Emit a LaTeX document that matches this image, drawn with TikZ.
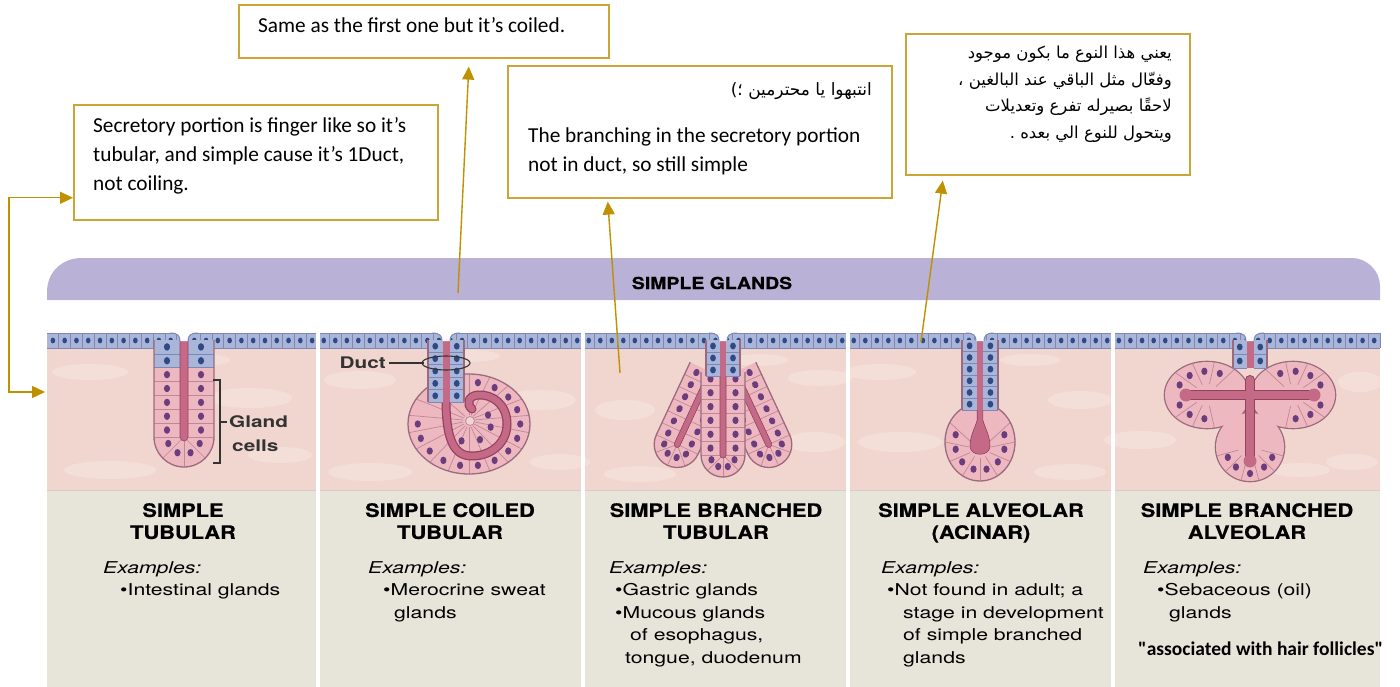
\documentclass[tikz,border=0pt]{standalone}
\usepackage{fontspec}
\setmainfont{Carlito}
\newfontfamily\plaincalibri[Ligatures=TeXOff]{Carlito}
\newfontfamily\figbody[FakeStretch=1.3]{TeX Gyre Heros}
\newfontfamily\figtitle[FakeStretch=1.18,FakeBold=0.6]{TeX Gyre Heros}
\newfontfamily\arabicfont[Script=Arabic]{DejaVu Sans}
\TeXXeTstate=1
\usetikzlibrary{arrows.meta}

\definecolor{tissue}{HTML}{F1D6CF}
\definecolor{tissuelight}{HTML}{F7E6E1}
\definecolor{tissueedge}{HTML}{D9CCC6}
\definecolor{cellpink}{HTML}{EEB8C1}
\definecolor{cellwall}{HTML}{C08896}
\definecolor{glandline}{HTML}{9C6A7E}
\definecolor{nucleus}{HTML}{6C3D7C}
\definecolor{lumenc}{HTML}{C46A87}
\definecolor{lumenedge}{HTML}{94405F}
\definecolor{ductblue}{HTML}{AAB5DA}
\definecolor{ductwall}{HTML}{7F88B2}
\definecolor{ductnuc}{HTML}{2E4A85}
\definecolor{headerc}{HTML}{B9B1D6}
\definecolor{labelbg}{HTML}{E7E5DA}
\definecolor{arrowgold}{HTML}{BF9000}
\definecolor{boxgold}{HTML}{C9A53A}
\definecolor{inkgrey}{HTML}{333333}

\tikzset{
  callout/.style={draw=boxgold, line width=1.6pt, fill=white, inner sep=0pt, anchor=north west},
  notetext/.style={font=\fontsize{21.3}{29}\selectfont, inner sep=0pt, align=left},
  arabictext/.style={font=\arabicfont\fontsize{16.5}{26.5}\selectfont, inner sep=0pt, align=right},
  goldarrow/.style={draw=arrowgold, line width=1.4pt, -{Triangle[length=13pt,width=12pt]}},
  golddouble/.style={draw=arrowgold, line width=1.4pt, {Triangle[length=13pt,width=12pt]}-{Triangle[length=13pt,width=12pt]}},
  wallline/.style={draw=cellwall, line width=0.7pt},
  titletext/.style={font=\figtitle\bfseries\fontsize{18.5}{22}\selectfont, align=center, anchor=north, inner sep=0pt},
  bodytext/.style={font=\figbody\fontsize{16.3}{22.5}\selectfont, align=left, anchor=north west, inner sep=0pt},
  figlabel/.style={font=\figbody\bfseries\fontsize{16}{22}\selectfont, inner sep=0pt, text=inkgrey},
}

% one finger-like secretory tube: x, y, angle, length, half width, duct (blue) length, lumen half width
\newcommand\glandtube[7]{%
  \begin{scope}[shift={(#1,#2)},rotate=#3]
    \pgfmathsetmacro\gdL{#4}\pgfmathsetmacro\gdW{#5}%
    \pgfmathsetmacro\gdB{#6}\pgfmathsetmacro\gdl{#7}%
    \pgfmathsetmacro\gdK{0.5523*\gdW}\pgfmathsetmacro\gdk{0.5523*\gdl}%
    \pgfmathsetmacro\gdE{\gdL+\gdW}\pgfmathsetmacro\gde{\gdL+\gdl}%
    \pgfmathtruncatemacro\gdN{max(1,round(\gdL/14))}%
    \pgfmathsetmacro\gdS{\gdL/\gdN}%
    \pgfmathsetmacro\gdM{(\gdW+\gdl)/2}%
    \fill[cellpink] (-\gdW,0) -- (-\gdW,\gdL) .. controls (-\gdW,\gdL+\gdK) and (-\gdK,\gdE) .. (0,\gdE)
      .. controls (\gdK,\gdE) and (\gdW,\gdL+\gdK) .. (\gdW,\gdL) -- (\gdW,0) -- cycle;
    \ifdim\gdB pt>0pt \fill[ductblue] (-\gdW,0) rectangle (\gdW,\gdB);\fi
    \foreach \k in {1,...,\gdN}{%
      \pgfmathsetmacro\gdy{\k*\gdS}\pgfmathsetmacro\gdc{(\k-0.5)*\gdS}%
      \ifdim\gdy pt>\gdB pt\def\gdwc{cellwall}\else\def\gdwc{ductwall}\fi
      \ifdim\gdc pt>\gdB pt\def\gdnc{nucleus}\else\def\gdnc{ductnuc}\fi
      \draw[draw=\gdwc,line width=0.7pt] (-\gdW,\gdy) -- (-\gdl,\gdy) (\gdl,\gdy) -- (\gdW,\gdy);
      \fill[fill=\gdnc] (-\gdM,\gdc) ellipse[x radius=3.1pt,y radius=3.7pt]
        (\gdM,\gdc) ellipse[x radius=3.1pt,y radius=3.7pt];
    }%
    \foreach \a in {45,90,135}
      \draw[wallline] ({\gdl*cos(\a)},{\gdL+\gdl*sin(\a)}) -- ({\gdW*cos(\a)},{\gdL+\gdW*sin(\a)});
    \foreach \a in {22.5,67.5,112.5,157.5}
      \fill[nucleus] ({\gdM*cos(\a)},{\gdL+\gdM*sin(\a)}) ellipse[x radius=3.1pt,y radius=3.7pt];
    \fill[lumenc] (-\gdl,-5) -- (-\gdl,\gdL) .. controls (-\gdl,\gdL+\gdk) and (-\gdk,\gde) .. (0,\gde)
      .. controls (\gdk,\gde) and (\gdl,\gdL+\gdk) .. (\gdl,\gdL) -- (\gdl,-5) -- cycle;
    \draw[lumenedge,line width=0.6pt] (-\gdl,-5) -- (-\gdl,\gdL) .. controls (-\gdl,\gdL+\gdk) and (-\gdk,\gde) .. (0,\gde)
      .. controls (\gdk,\gde) and (\gdl,\gdL+\gdk) .. (\gdl,\gdL) -- (\gdl,-5);
    \draw[glandline,line width=1.3pt] (-\gdW,0) -- (-\gdW,\gdL) .. controls (-\gdW,\gdL+\gdK) and (-\gdK,\gdE) .. (0,\gdE)
      .. controls (\gdK,\gdE) and (\gdW,\gdL+\gdK) .. (\gdW,\gdL) -- (\gdW,0);
  \end{scope}}

% straight duct of cuboidal cells: x, top, bottom, half width, lumen half width
\newcommand\ductpiece[5]{%
  \begin{scope}[shift={(#1,0)}]
    \pgfmathsetmacro\dpT{#2}\pgfmathsetmacro\dpB{#3}\pgfmathsetmacro\dpW{#4}\pgfmathsetmacro\dpl{#5}%
    \pgfmathtruncatemacro\dpN{max(1,round((\dpB-\dpT)/12))}%
    \pgfmathsetmacro\dpS{(\dpB-\dpT)/\dpN}\pgfmathsetmacro\dpM{(\dpW+\dpl)/2}%
    \fill[ductblue] (-\dpW,\dpT) rectangle (\dpW,\dpB);
    \foreach \k in {1,...,\dpN}{%
      \pgfmathsetmacro\dpy{\dpT+\k*\dpS}\pgfmathsetmacro\dpc{\dpT+(\k-0.5)*\dpS}%
      \draw[ductwall,line width=0.7pt] (-\dpW,\dpy) -- (-\dpl,\dpy) (\dpl,\dpy) -- (\dpW,\dpy);
      \fill[ductnuc] (-\dpM,\dpc) ellipse[x radius=2.9pt,y radius=3.4pt] (\dpM,\dpc) ellipse[x radius=2.9pt,y radius=3.4pt];
    }%
    \fill[lumenc] (-\dpl,\dpT-4) rectangle (\dpl,\dpB);
    \draw[glandline,line width=1.3pt] (-\dpW,\dpT) -- (-\dpW,\dpB) (\dpW,\dpT) -- (\dpW,\dpB);
  \end{scope}}

% surface epithelium between two x positions
\newcommand\epiband[2]{%
  \fill[ductblue] (#1,333) rectangle (#2,348);
  \pgfmathtruncatemacro\ebN{floor((#2-#1)/11.5)}%
  \pgfmathsetmacro\ebS{(#2-#1)/\ebN}%
  \foreach \k in {1,...,\ebN}{%
    \pgfmathsetmacro\ebx{#1+\k*\ebS}\pgfmathsetmacro\ebc{#1+(\k-0.5)*\ebS}%
    \draw[ductwall,line width=0.6pt] (\ebx,333) -- (\ebx,348);
    \fill[ductnuc] (\ebc,340.5) ellipse[x radius=2.3pt,y radius=2.9pt];
  }%
  \draw[ductwall,line width=1pt] (#1,333) -- (#2,333) (#1,348) -- (#2,348);}

% funnel where a duct opens at the surface
\newcommand\ductopening[1]{%
  \fill[white] (#1-14,332.5) .. controls (#1-6,332.5) and (#1-4,336) .. (#1-4,341) -- (#1+4,341)
    .. controls (#1+4,336) and (#1+6,332.5) .. (#1+14,332.5) -- cycle;
  \draw[ductwall,line width=1pt] (#1-14,333) .. controls (#1-6,333) and (#1-4,336) .. (#1-4,341)
    (#1+4,341) .. controls (#1+4,336) and (#1+6,333) .. (#1+14,333);}

\begin{document}
\begin{tikzpicture}[x=1pt,y=-1pt]
\useasboundingbox (0,0) rectangle (1400,687);
\fill[white] (0,0) rectangle (1400,687);

% ---------- figure frame ----------
\fill[headerc] (47,300) -- (47,292) .. controls (47,272) and (62,258) .. (82,258) -- (1352,258)
  .. controls (1367,258) and (1380,271) .. (1380,286) -- (1380,300) -- cycle;
\node[font=\figtitle\bfseries\fontsize{16.5}{20}\selectfont, inner sep=0pt] (maintitle) at (712,283) {SIMPLE GLANDS};

\fill[tissue] (47,348) rectangle (1380,490);
\begin{scope}
  \clip (47,348) rectangle (1380,490);
  \foreach \px/\py/\rx/\ry in {90/372/38/8,250/398/42/10,110/470/46/9,280/455/32/8,360/380/36/9,
      540/400/36/10,370/472/42/9,560/462/30/8,625/410/30/10,820/378/32/8,640/474/36/8,815/442/30/10,
      880/372/36/8,900/442/42/10,1080/400/32/9,1070/472/36/8,1140/440/36/9,1360/382/22/10,1352/462/26/8,
      200/360/30/6,470/356/30/6,760/360/28/6,1030/360/30/6,1300/470/30/7}
    \fill[tissuelight,opacity=0.55] (\px,\py) ellipse[x radius=\rx pt,y radius=\ry pt];
\end{scope}
\fill[labelbg] (47,490) rectangle (1380,687);
\draw[tissueedge,line width=1.5pt] (47,490.5) -- (1380,490.5);

\epiband{47}{318}
\epiband{318}{583}
\epiband{583}{848}
\epiband{848}{1113}
\epiband{1113}{1380}

% ---------- simple tubular ----------
\glandtube{184}{340}{0}{97}{30}{28}{4}
\ductopening{184}

% ---------- simple coiled tubular ----------
\fill[cellpink] (469,424) ellipse[x radius=61pt,y radius=50pt];
\foreach \a in {-90,-70,...,230}
  \draw[wallline] ({469+6*cos(\a)},{421+6*sin(\a)}) -- ({469+61*cos(\a)},{424+50*sin(\a)});
\draw[lumenedge,line width=9pt,line cap=round] (446,400) .. controls (446,442) and (455,456) .. (472,456)
  .. controls (492,456) and (507,442) .. (507,424) .. controls (507,404) and (492,394) .. (478,395)
  .. controls (468,396) and (466,404) .. (472,409);
\draw[lumenc,line width=6.5pt,line cap=round] (446,400) .. controls (446,442) and (455,456) .. (472,456)
  .. controls (492,456) and (507,442) .. (507,424) .. controls (507,404) and (492,394) .. (478,395)
  .. controls (468,396) and (466,404) .. (472,409);
\foreach \a in {-80,-60,...,180}
  \fill[nucleus] ({469+0.84*61*cos(\a)},{424+0.84*50*sin(\a)}) ellipse[x radius=3.1pt,y radius=3.7pt];
\foreach \a in {10,60,110,330}
  \fill[nucleus] ({469+0.36*61*cos(\a)},{424+0.36*50*sin(\a)}) ellipse[x radius=3.1pt,y radius=3.7pt];
\fill[tissue] (470,421) circle[radius=4.5pt];
\draw[cellwall,line width=0.8pt] (470,421) circle[radius=4.5pt];
\draw[glandline,line width=1.3pt] (469,424) ellipse[x radius=61pt,y radius=50pt];
\ductpiece{446}{340}{402}{18}{3.5}
\ductopening{446}

% ---------- simple branched tubular ----------
\glandtube{711}{372}{-25}{80}{23}{0}{3}
\glandtube{735}{372}{25}{80}{23}{0}{3}
\glandtube{723}{372}{0}{83}{22}{0}{3}
\ductpiece{723}{340}{376}{17}{3}
\ductopening{723}

% ---------- simple alveolar ----------
\fill[cellpink] (980,442) ellipse[x radius=35pt,y radius=39pt];
\foreach \a in {-30,0,...,210}
  \draw[wallline] ({980+11*cos(\a)},{447+11*sin(\a)}) -- ({980+35*cos(\a)},{442+39*sin(\a)});
\foreach \a in {-15,15,...,195}
  \fill[nucleus] ({980+0.72*35*cos(\a)},{442+0.72*39*sin(\a)}) ellipse[x radius=3.1pt,y radius=3.7pt];
\draw[glandline,line width=1.3pt] (980,442) ellipse[x radius=35pt,y radius=39pt];
\ductpiece{980}{340}{410}{18}{2.8}
\fill[lumenc] (977.2,405) -- (977.2,420) .. controls (975,428) and (970,436) .. (970,446)
  .. controls (970,457) and (990,457) .. (990,446) .. controls (990,436) and (985,428) .. (982.8,420) -- (982.8,405) -- cycle;
\draw[lumenedge,line width=0.6pt] (977.2,410) -- (977.2,420) .. controls (975,428) and (970,436) .. (970,446)
  .. controls (970,457) and (990,457) .. (990,446) .. controls (990,436) and (985,428) .. (982.8,420) -- (982.8,410);
\ductopening{980}

% ---------- simple branched alveolar ----------
\foreach \cx/\cy/\rx/\ry in {1207/395/42/33,1293/395/42/33,1250/447/34/34}
  \draw[glandline,line width=2.6pt] (\cx,\cy) ellipse[x radius=\rx pt,y radius=\ry pt];
\foreach \cx/\cy/\rx/\ry in {1207/395/42/33,1293/395/42/33,1250/447/34/34}
  \fill[cellpink] (\cx,\cy) ellipse[x radius=\rx pt,y radius=\ry pt];
\foreach \a in {80,110,138,222,250,280,310}
  \draw[wallline] ({1207+14*cos(\a)},{395+11*sin(\a)}) -- ({1207+42*cos(\a)},{395+33*sin(\a)});
\foreach \a in {100,70,42,-42,-70,-100,-130}
  \draw[wallline] ({1293+14*cos(\a)},{395+11*sin(\a)}) -- ({1293+42*cos(\a)},{395+33*sin(\a)});
\foreach \a in {15,45,75,105,135,165}
  \draw[wallline] ({1250+12*cos(\a)},{447+12*sin(\a)}) -- ({1250+34*cos(\a)},{447+34*sin(\a)});
\foreach \a in {95,125,155,205,235,265,295}
  \fill[nucleus] ({1207+0.72*42*cos(\a)},{395+0.72*33*sin(\a)}) ellipse[x radius=3.1pt,y radius=3.7pt];
\foreach \a in {85,55,25,-25,-55,-85,-115}
  \fill[nucleus] ({1293+0.72*42*cos(\a)},{395+0.72*33*sin(\a)}) ellipse[x radius=3.1pt,y radius=3.7pt];
\foreach \a in {25,55,125,155}
  \fill[nucleus] ({1250+0.72*34*cos(\a)},{447+0.72*34*sin(\a)}) ellipse[x radius=3.1pt,y radius=3.7pt];
\fill[nucleus] (1250,473.5) ellipse[x radius=3.1pt,y radius=3.7pt];
\draw[lumenedge,line width=10pt,line cap=round] (1186,395) -- (1314,395) (1250,380) -- (1250,460);
\draw[lumenc,line width=8pt,line cap=round] (1186,395) -- (1314,395) (1250,380) -- (1250,460);
\foreach \lx/\ly in {1186/395,1314/395,1250/461}
  \fill[lumenc] (\lx,\ly) circle[radius=6.5pt];
\ductpiece{1250}{340}{368}{17}{3.5}
\ductopening{1250}

% ---------- panel dividers ----------
\foreach \dx in {318,583,848,1113}
  \draw[white,line width=3.5pt] (\dx,333) -- (\dx,687);

% ---------- drawing labels ----------
\draw[inkgrey,line width=1.2pt] (213,380) -- (220,380) -- (220,463) -- (213,463) (220,422) -- (227,422);
\node[figlabel,anchor=west] (glandlbl) at (229,422) {Gland};
\node[figlabel,anchor=west] (cellslbl) at (232,446) {cells};
\node[figlabel,anchor=east] (ductlbl) at (386,363) {Duct};
\draw[inkgrey,line width=1.1pt] (ductlbl.east) ++(3pt,0) -- (424,363);
\draw[inkgrey,line width=1.1pt] (446,363) ellipse[x radius=24pt,y radius=7pt];

% ---------- panel captions ----------
\node[titletext] (t1) at (183,503) {SIMPLE\\TUBULAR};
\node[titletext] (t2) at (450,503) {SIMPLE COILED\\TUBULAR};
\node[titletext] (t3) at (716,503) {SIMPLE BRANCHED\\TUBULAR};
\node[titletext] (t4) at (981,503) {SIMPLE ALVEOLAR\\(ACINAR)};
\node[titletext] (t5) at (1247,503) {SIMPLE BRANCHED\\ALVEOLAR};

\node[bodytext] (e1) at (103,561) {{\itshape Examples:}\\\hspace*{17pt}•Intestinal glands};
\node[bodytext] (e2) at (368,561) {{\itshape Examples:}\\\hspace*{15pt}•Merocrine sweat\\\hspace*{26pt}glands};
\node[bodytext] (e3) at (609,561) {{\itshape Examples:}\\\hspace*{6pt}•Gastric glands\\\hspace*{6pt}•Mucous glands\\\hspace*{21pt}of esophagus,\\\hspace*{16pt}tongue, duodenum};
\node[bodytext] (e4) at (881,561) {{\itshape Examples:}\\\hspace*{6pt}•Not found in adult; a\\\hspace*{22pt}stage in development\\\hspace*{22pt}of simple branched\\\hspace*{22pt}glands};
\node[bodytext] (e5) at (1143,561) {{\itshape Examples:}\\\hspace*{14pt}•Sebaceous (oil)\\\hspace*{26pt}glands};

\node[font=\plaincalibri\bfseries\fontsize{19.5}{24}\selectfont, inner sep=0pt, anchor=base west] (hair) at (1138,655) {"associated with hair follicles"};

% ---------- callout notes ----------
\node[callout, minimum width=364pt, minimum height=115pt] (box1) at (73,104) {};
\node[notetext, anchor=north west] (note1) at (93,117) {Secretory portion is finger like so it’s\\tubular, and simple cause it’s 1Duct,\\not coiling.};

\node[callout, minimum width=370pt, minimum height=53pt] (box2) at (238,4) {};
\node[notetext, anchor=base west] (note2) at (258,33) {Same as the first one but it’s coiled.};

\node[callout, minimum width=384pt, minimum height=132pt] (box3) at (507,65) {};
\node[arabictext, font=\arabicfont\fontsize{17}{26}\selectfont, anchor=base east] (note3a) at (872,96) {\beginR انتبهوا يا محترمين ؛)\endR};
\node[notetext, anchor=north west] (note3b) at (528,128) {The branching in the secretory portion\\not in duct, so still simple};

\node[callout, minimum width=284pt, minimum height=141pt] (box4) at (905,33) {};
\node[arabictext, anchor=north east] (note4) at (1172,46) {\beginR يعني هذا النوع ما بكون موجود\endR\\\beginR وفعّال مثل الباقي عند البالغين ،\endR\\\beginR لاحقًا بصيرله تفرع وتعديلات\endR\\\beginR ويتحول للنوع الي بعده .\endR};

% ---------- connectors ----------
\coordinate (tipleft) at (45,392);
\coordinate (tailcoil) at (458,293);
\coordinate (tailbranch) at (620,373);
\coordinate (tailalv) at (921,342);
\draw[golddouble] (tipleft) -- ++(-36,0) |- ([yshift=-35.5pt]box1.west);
\draw[goldarrow] (tailcoil) -- ([xshift=45pt,yshift=-8pt]box2.south);
\draw[goldarrow] (tailbranch) -- ([xshift=-92pt,yshift=-3pt]box3.south);
\draw[goldarrow] (tailalv) -- ([xshift=-105pt,yshift=-5pt]box4.south);
\end{tikzpicture}
\end{document}
